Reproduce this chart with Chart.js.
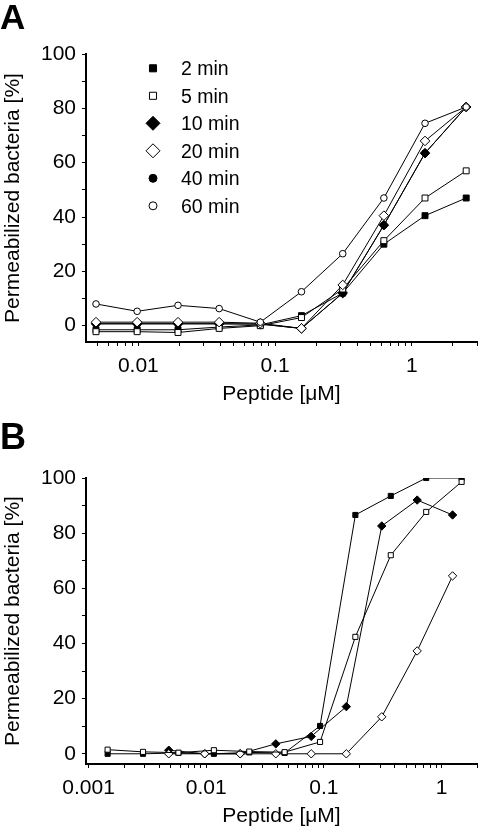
<!DOCTYPE html>
<html>
<head>
<meta charset="utf-8">
<script src="https://cdn.jsdelivr.net/npm/chart.js@4"></script>
<style>
  body { margin: 0; background: #fff; width: 485px; height: 832px; position: relative; overflow: hidden; }
  canvas { position: absolute; left: 0; display: block; }
  #chartA { top: 0; }
  #chartB { top: 410px; }
  .panel { position: absolute; left: 0; font-family: 'Liberation Sans', Arial, sans-serif; font-weight: bold; line-height: 1; color: #000; }
</style>
</head>
<body>
<canvas id="chartA" width="485" height="410"></canvas>
<canvas id="chartB" width="485" height="422"></canvas>
<div class="panel" style="top:-1px;font-size:35px">A</div>
<div class="panel" style="top:419px;font-size:36px">B</div>
<script>
// Painel A: concentracoes (uM) e % permeabilizadas por tempo
const dosesA = [0.0049, 0.0098, 0.0195, 0.039, 0.078, 0.156, 0.3125, 0.625, 1.25, 2.5];
const a2min  = [-1.5, -1.5, -1.5, -0.5, 0.3, 3.7, 12, 30, 40.5, 47];
const a5min  = [-2.2, -2.2, -2.5, -1, 0, 3, 13.5, 31.3, 47, 57];
const a10min = [0.7, 0.7, 0.7, 0.7, 0.6, -1, 12, 37, 63.5, 80.5];
const a20min = [1.3, 1.3, 1.3, 1.3, 0.9, -1, 15, 40.5, 68, 80.5];
const a40min = [0.7, 0.7, 0.7, 0.7, 0.6, -1, 12, 37, 63.5, 80.5];
const a60min = [8, 5.3, 7.5, 6.3, 1.3, 12.5, 26.5, 47, 74.5, 80.5];

// Painel B: duas series de diluicao
const dosesB1 = [0.00145, 0.0029, 0.0058, 0.0116, 0.0232, 0.0463, 0.0927, 0.185, 0.37, 0.74, 1.48];
const b2min   = [0, 0, 0.3, 0, 0.5, 0.3, 10.1, 86.6, 93.5, 100, 100];
const b5min   = [1.5, 0.7, 0.4, 1.3, 0.8, 0.6, 4.3, 42.4, 72, 87.7, 98.6];
const dosesB2 = [0.0048, 0.0097, 0.0194, 0.039, 0.078, 0.155, 0.31, 0.62, 1.24];
const b10min  = [1.3, 0, 0, 3.6, 6.3, 17.1, 82.6, 92, 86.6];
const b20min  = [0, 0, 0, 0, 0, 0, 13.4, 37.3, 64.5];

const seriesLabels = ['2 min', '5 min', '10 min', '20 min', '40 min', '60 min'];
const yTicks = [0, 10, 20, 30, 40, 50, 60, 70, 80, 90, 100];
const xTitle = 'Peptide [\u03bcM]';
const yTitle = 'Permeabilized bacteria [%]';

const FONT = "'Liberation Sans', Arial, sans-serif";
Chart.defaults.font.family = FONT;
Chart.defaults.color = '#000';
Chart.defaults.animation = false;

// estilo de marcador por tempo
const markerStyle = {
    '2 min':  { pointStyle: 'rect',    fill: '#000' },
    '5 min':  { pointStyle: 'rect',    fill: '#fff' },
    '10 min': { pointStyle: 'rectRot', fill: '#000' },
    '20 min': { pointStyle: 'rectRot', fill: '#fff' },
    '40 min': { pointStyle: 'circle',  fill: '#000' },
    '60 min': { pointStyle: 'circle',  fill: '#fff' }
};

function makeDataset(label, doses, values, radius, order) {
    const st = markerStyle[label];
    return {
        label: label,
        data: doses.map((d, i) => ({ x: d, y: values[i] })),
        borderColor: '#000',
        borderWidth: 1,
        pointStyle: st.pointStyle,
        pointBackgroundColor: st.fill,
        pointBorderColor: '#000',
        pointBorderWidth: 1,
        pointRadius: radius,
        tension: 0,
        order: order
    };
}

function logTicks(scale) {
    const ticks = [];
    const e0 = Math.floor(Math.log10(scale.min));
    const e1 = Math.ceil(Math.log10(scale.max));
    for (let e = e0; e <= e1; e++) {
        for (let k = 1; k <= 9; k++) {
            const v = parseFloat((k * Math.pow(10, e)).toPrecision(4));
            if (v >= scale.min && v <= scale.max) ticks.push({ value: v, major: k === 1 });
        }
    }
    scale.ticks = ticks;
}

function decadeLabel(v) {
    const l = Math.log10(v);
    return Math.abs(l - Math.round(l)) < 1e-9 ? String(v) : '';
}

function buildScales(xMin, xMax, yMin, xHeight) {
    return {
        x: {
            type: 'logarithmic',
            position: 'bottom',
            min: xMin,
            max: xMax,
            border: { color: '#000', width: 2 },
            grid: { drawOnChartArea: false, color: '#000', tickLength: 4 },
            afterBuildTicks: logTicks,
            afterFit: s => { s.height = xHeight; },
            ticks: { autoSkip: false, maxRotation: 0, padding: 8, font: { size: 21 }, color: '#000', callback: decadeLabel },
            title: { display: true, text: xTitle, font: { size: 21 }, color: '#000', padding: { top: 0, bottom: 3.5 } }
        },
        y: {
            type: 'linear',
            min: yMin,
            max: 100,
            border: { color: '#000', width: 2 },
            grid: { drawOnChartArea: false, color: '#000', tickLength: 4 },
            afterBuildTicks: s => { s.ticks = yTicks.map(v => ({ value: v })); },
            afterFit: s => { s.width = 86; },
            ticks: { padding: 6, font: { size: 21 }, color: '#000', callback: v => (v % 20 === 0 ? v : '') },
            title: { display: true, text: yTitle, font: { size: 21 }, color: '#000', padding: { top: 1, bottom: 0 } }
        }
    };
}

// legenda vertical dentro do grafico A
const markerLegend = {
    id: 'markerLegend',
    afterDraw(chart) {
        const ctx = chart.ctx;
        const sizes = { rect: 5, rectRot: 7, circle: 4 };
        ctx.save();
        chart.data.datasets.forEach((ds, i) => {
            const y = 68.3 + i * 27.5;
            ctx.fillStyle = ds.pointBackgroundColor;
            ctx.strokeStyle = '#000';
            ctx.lineWidth = 1;
            Chart.helpers.drawPoint(ctx, { pointStyle: ds.pointStyle, radius: sizes[ds.pointStyle], rotation: 0, borderWidth: 1 }, 153, y);
            ctx.fillStyle = '#000';
            ctx.font = '19.5px ' + FONT;
            ctx.textAlign = 'left';
            ctx.textBaseline = 'alphabetic';
            ctx.fillText(ds.label, 181, y + 7);
        });
        ctx.restore();
    }
};

const baseOptions = {
    responsive: false,
    maintainAspectRatio: false,
    plugins: { legend: { display: false }, tooltip: { enabled: false } }
};

// Grafico A
new Chart(document.getElementById('chartA'), {
    type: 'line',
    data: {
        datasets: [
            makeDataset('2 min', dosesA, a2min, 4.2, 3),
            makeDataset('5 min', dosesA, a5min, 4.2, 2),
            makeDataset('10 min', dosesA, a10min, 4.8, 4),
            makeDataset('20 min', dosesA, a20min, 4.8, 1),
            makeDataset('40 min', dosesA, a40min, 3.3, 5),
            makeDataset('60 min', dosesA, a60min, 3.3, 0)
        ]
    },
    options: Object.assign({}, baseOptions, {
        layout: { padding: { left: 0, right: 2, top: 54, bottom: 0 } },
        scales: buildScales(0.00414, 3, -6, 68)
    }),
    plugins: [markerLegend]
});

// Grafico B
new Chart(document.getElementById('chartB'), {
    type: 'line',
    data: {
        datasets: [
            makeDataset('2 min', dosesB1, b2min, 3.6, 2),
            makeDataset('5 min', dosesB1, b5min, 3.6, 0),
            makeDataset('10 min', dosesB2, b10min, 4.2, 3),
            makeDataset('20 min', dosesB2, b20min, 4.2, 1)
        ]
    },
    options: Object.assign({}, baseOptions, {
        layout: { padding: { left: 0, right: 2, top: 68, bottom: 0 } },
        scales: buildScales(0.00095, 2, -3.7, 68)
    })
});
</script>
</body>
</html>
